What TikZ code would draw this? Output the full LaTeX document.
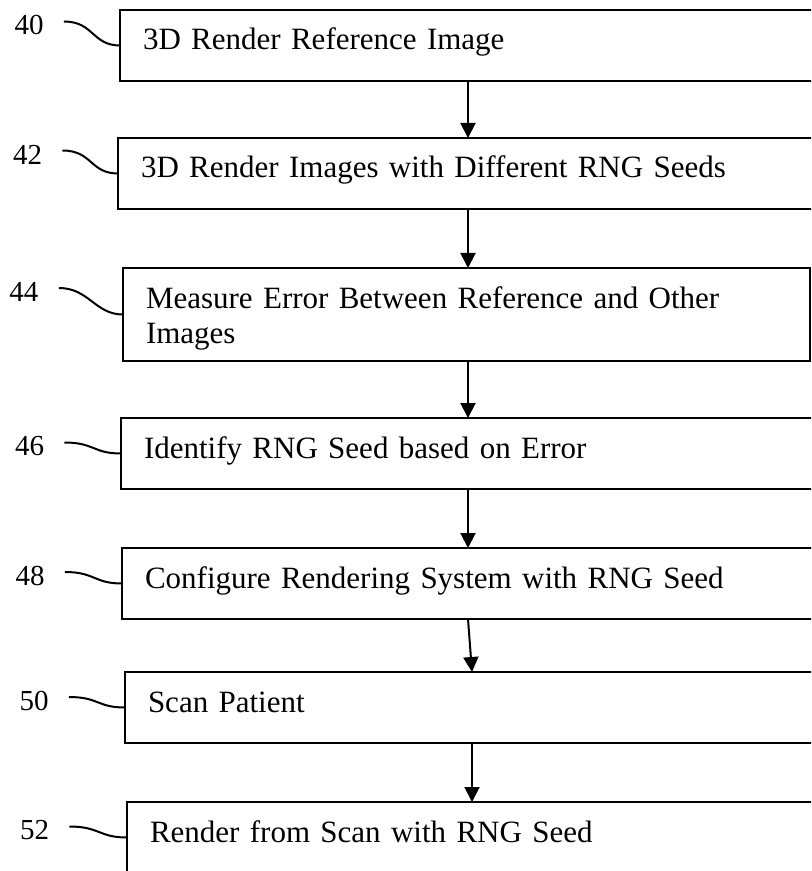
\documentclass[tikz,border=0pt]{standalone}
\usepackage{fontspec}
\setmainfont{Liberation Serif}
\usetikzlibrary{arrows.meta}

\tikzset{
  stepbox/.style={draw, line width=1.3pt, anchor=north west, outer sep=0pt,
    inner xsep=11.5pt, inner ysep=0pt, text width=400pt, align=left,
    text height=20pt, text depth=15.5pt, font=\fontsize{15.5pt}{17.75pt}\selectfont},
  tag/.style={inner sep=0pt, font=\fontsize{14.5pt}{16pt}\selectfont},
  lead/.style={line width=1pt},
  flow/.style={line width=1pt, -{Triangle[length=7.5pt,width=7.5pt]}}
}

\begin{document}
\begin{tikzpicture}[x=0.5pt,y=-0.5pt]
		\useasboundingbox (0,0) rectangle (811,871);
		\clip (0,0) rectangle (811,871);

		% Steps
		\node[stepbox] (b40) at (120,10) {3D Render Reference Image};
		\node[stepbox] (b42) at (118,138) {3D Render Images with Different RNG Seeds};
		\node[stepbox,text width=320.5pt,text depth=26.5pt] (b44) at (123,268) {Measure Error Between Reference and Other\\Images};
		\node[stepbox] (b46) at (121,418) {Identify RNG Seed based on Error};
		\node[stepbox] (b48) at (122,548) {Configure Rendering System with RNG Seed};
		\node[stepbox] (b50) at (125,672) {Scan Patient};
		\node[stepbox] (b52) at (127,802) {Render from Scan with RNG Seed};

		% Reference numerals
		\node[tag] (l40) at (29,25.5) {40};
		\node[tag] (l42) at (27.5,154.5) {42};
		\node[tag] (l44) at (24,292) {44};
		\node[tag] (l46) at (29.5,446.5) {46};
		\node[tag] (l48) at (30,576) {48};
		\node[tag] (l50) at (34,701) {50};
		\node[tag] (l52) at (34.5,830.5) {52};

		% Leader lines
		\foreach \n in {40,42,44,46,48,50,52}
			\draw[lead] ([xshift=10pt,yshift=2pt]l\n.east) .. controls +(30,0) and +(-28,0) .. (b\n.west);

		% Flow arrows
		\coordinate (spine) at (468,0);
		\coordinate (spine2) at (472,0);
		\draw[flow] (b40.south -| spine) -- (b42.north -| spine);
		\draw[flow] (b42.south -| spine) -- (b44.north -| spine);
		\draw[flow] (b44.south -| spine) -- (b46.north -| spine);
		\draw[flow] (b46.south -| spine) -- (b48.north -| spine);
		\draw[flow] (b48.south -| spine) -- (b50.north -| spine2);
		\draw[flow] (b50.south -| spine2) -- (b52.north -| spine2);
	\end{tikzpicture}
\end{document}
